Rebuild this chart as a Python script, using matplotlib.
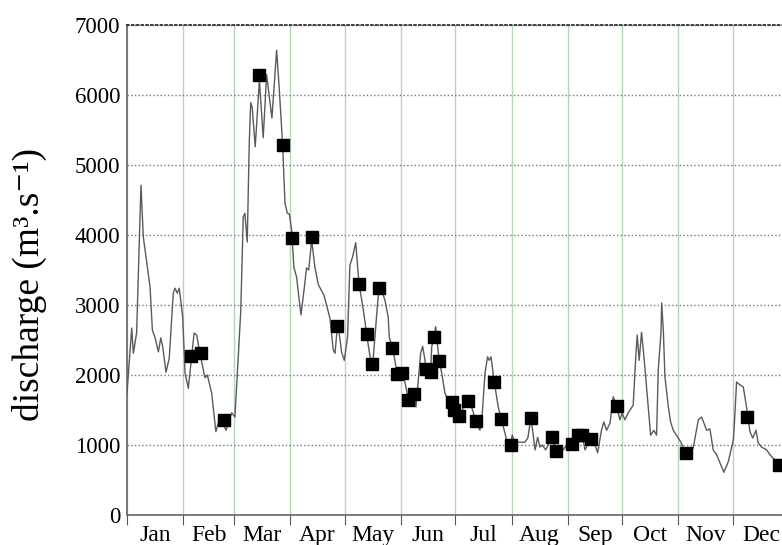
import matplotlib
matplotlib.use("Agg")
import matplotlib.pyplot as plt
import numpy as np

plt.rcParams['font.family'] = ['Liberation Serif', 'DejaVu Serif']

# daily discharge (day of year, m3/s)
days = [0, 2.6, 3.5, 5.3, 7.7, 9, 12.7, 14, 15.4, 17.3, 18.6, 19.7, 21.5, 23.3, 25.5, 26.5,
        27.7, 28.8, 30.7, 32, 33.8, 37, 38.4, 40.2, 43, 44.3, 46.7, 49, 51.2, 54.6, 57.7,
        59.5, 62.7, 64.1, 65, 66.3, 67.4, 68.2, 69, 70.7, 73, 75.1, 77, 79.9, 82.5, 84,
        85.8, 87.1, 88.4, 89.5, 90.8, 92, 93.5, 95.9, 97.6, 99, 100.2, 101.8, 103.6, 105.5,
        108.6, 111.9, 113.7, 114.7, 116, 117, 118.3, 119.8, 121.6, 122.9, 124.4, 126.1,
        127.9, 130.3, 132.1, 134, 135.5, 138, 138.9, 140.4, 142.2, 144, 144.6, 146.3, 147.7,
        149, 151.8, 153.2, 154.5, 155, 158.4, 159.3, 160.6, 161.9, 163, 164.3, 164.8, 167.4,
        168, 169.2, 170.2, 171.3, 172.2, 173.5, 175.3, 177.1, 179, 180.4, 183.2, 185.5,
        188.2, 190, 192.4, 194.6, 195.9, 197.4, 198.8, 199.7, 200.7, 202.5, 204.7, 206.4,
        208.4, 210.2, 211.5, 212.4, 213.9, 219.4, 221, 222.7, 224, 225, 226.4, 227.7, 229,
        230.8, 234.5, 236.3, 237.8, 240.5, 242.4, 245.1, 246.9, 248.8, 251, 252.5, 255.6,
        257, 259.5, 261.6, 262.9, 264.4, 266.3, 268.1, 269.9, 271.8, 273, 274.5, 276.4,
        279.1, 280.4, 281.3, 282.4, 283.7, 285.2, 287.4, 288.7, 290.5, 292, 292.9, 294.4,
        294.8, 295.7, 296.6, 298.5, 299.7, 301.2, 303.9, 305.4, 307.6, 308.9, 312.2, 315,
        316.8, 319.6, 321.4, 323.2, 325.1, 329.1, 331.5, 334.3, 334.8, 335.6, 336.1, 337.9,
        339.8, 341.6, 343.5, 345, 346.8, 348, 349.9, 352.7, 354.5, 356.3, 359.6, 362]
flow = [1740, 2670, 2310, 2600, 4710, 3970, 3260, 2640, 2540, 2330, 2530, 2400, 2040, 2240,
        3170, 3240, 3170, 3240, 2830, 2030, 1810, 2600, 2570, 2310, 1960, 2000, 1740, 1190,
        1400, 1210, 1460, 1400, 2900, 4260, 4310, 3900, 5310, 5890, 5830, 5260, 6210, 5390,
        6290, 5670, 6640, 6070, 5290, 4460, 4310, 4300, 4070, 3540, 3400, 2860, 3210, 3530,
        3500, 3930, 3540, 3290, 3140, 2810, 2360, 2310, 2700, 2600, 2330, 2210, 2540, 3570,
        3690, 3890, 3310, 2930, 2590, 2260, 2150, 2970, 3240, 3210, 3070, 2830, 2540, 2390,
        2210, 2010, 2030, 1900, 1740, 1640, 1730, 1540, 1930, 2310, 2410, 2210, 2090, 2040,
        2400, 2540, 2690, 2400, 2200, 2030, 1740, 1640, 1610, 1500, 1410, 1540, 1630, 1540,
        1340, 1210, 1460, 2030, 2260, 2210, 2260, 1900, 1540, 1370, 1170, 970, 1000, 1140,
        1040, 1040, 1100, 1390, 1140, 930, 1110, 970, 1000, 930, 1110, 920, 970, 930, 1000,
        1010, 1100, 1140, 1140, 930, 1090, 1070, 890, 1210, 1330, 1210, 1310, 1690, 1560,
        1360, 1460, 1360, 1460, 1570, 2210, 2570, 2210, 2610, 2210, 1540, 1140, 1210, 1140,
        2070, 2600, 3030, 2640, 1970, 1540, 1330, 1210, 1100, 1040, 890, 810, 960, 1360,
        1400, 1210, 1230, 930, 860, 610, 760, 1070, 1260, 1640, 1900, 1860, 1830, 1540,
        1190, 1100, 1210, 1030, 970, 930, 860, 810, 710, 690]

# sampled measurements (black squares)
sample_days = [35.3, 40.8, 53.5, 73, 85.8, 91, 102, 116, 128, 132.1, 134.9, 138.9, 146.3,
               149, 151.8, 155, 158.4, 164.8, 167.4, 169.2, 172.2, 179, 180.4, 183.2, 188.2,
               192.4, 202.5, 206.4, 211.5, 222.7, 234.5, 236.3, 245.1, 248.8, 251, 255.6,
               269.9, 308, 342, 359.6]
sample_flow = [2270, 2310, 1360, 6290, 5290, 3960, 3970, 2700, 3300, 2590, 2160, 3240, 2390,
               2010, 2030, 1640, 1730, 2090, 2040, 2540, 2200, 1610, 1500, 1410, 1630, 1340,
               1900, 1370, 1000, 1390, 1110, 920, 1010, 1140, 1140, 1090, 1560, 890, 1400, 710]

months = ['Jan', 'Feb', 'Mar', 'Apr', 'May', 'Jun', 'Jul', 'Aug', 'Sep', 'Oct', 'Nov', 'Dec']
month_len = [31, 28, 31, 30, 31, 30, 31, 31, 30, 31, 30, 31]
month_start = np.concatenate([[0], np.cumsum(month_len)])
month_mid = (month_start[:-1] + month_start[1:]) / 2.0

fig = plt.figure(figsize=(7.82, 5.45), dpi=100)
ax = fig.add_axes([127 / 782, 30 / 545, 662 / 782, 490 / 545])

ax.plot(days, flow, color='#5a5a5a', lw=1.0, zorder=3)
ax.plot(sample_days, sample_flow, 's', color='black', ms=9, zorder=4)

ax.set_xlim(0, 365)
ax.set_ylim(0, 7000)
ax.set_yticks(np.arange(0, 7001, 1000))

ax.set_xticks(month_start)
ax.set_xticklabels([])
ax.set_xticks(month_mid, minor=True)
ax.set_xticklabels(months, minor=True)
ax.tick_params(axis='x', which='major', direction='out', length=7, color='#555555')
ax.tick_params(axis='x', which='minor', length=0, pad=7, labelsize=17)
ax.tick_params(axis='y', length=0, pad=5, labelsize=16.5)

ax.grid(axis='y', color='#777777', ls=':', lw=1.0)
ax.grid(axis='x', which='major', color='#b6d4b6', ls='-', lw=1.0)
ax.set_axisbelow(True)

for s in ['left', 'bottom']:
    ax.spines[s].set_color('#666666')
    ax.spines[s].set_linewidth(1.2)
ax.spines['right'].set_visible(False)
ax.spines['top'].set_color('#333333')
ax.spines['top'].set_linestyle(':')
ax.spines['top'].set_linewidth(1.3)

ax.set_ylabel('discharge (m\u00b3.s\u207b\u00b9)', fontsize=27)
ax.yaxis.set_label_coords(-0.121, 0.47)

plt.savefig('out.png', dpi=100)
plt.close()
